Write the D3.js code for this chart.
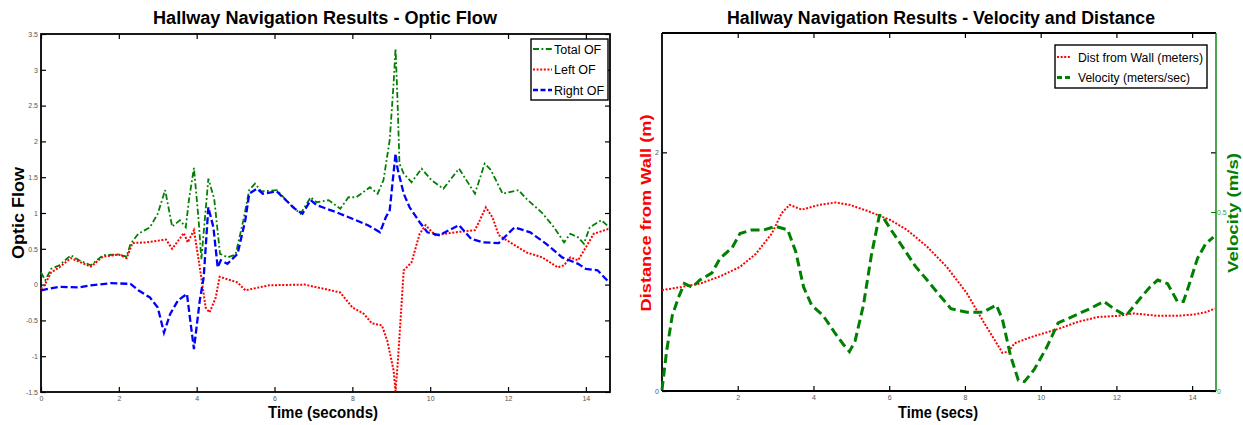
<!DOCTYPE html>
<html><head><meta charset="utf-8">
<script src="https://cdn.jsdelivr.net/npm/d3@7"></script>
<style>body{margin:0;background:#fff}svg{display:block}text{font-family:"Liberation Sans",Arial,sans-serif}</style>
</head><body><svg id="c" width="1243" height="425"></svg>
<script>
// ---------- DATA ----------
const ofXTicks = [0,2,4,6,8,10,12,14];
const ofYTicks = [-1.5,-1,-0.5,0,0.5,1,1.5,2,2.5,3,3.5];
const vdXTicks = [2,4,6,8,10,12,14];
const distTicks = [0,2];
const velTicks = [0,0.5];

const totalT = [0,0.11,0.26,0.47,0.77,0.98,1.28,1.59,1.99,2.2,2.3,2.5,2.8,3.0,3.19,3.37,3.57,3.72,3.8,3.93,4.05,4.12,4.3,4.45,4.6,4.8,5.0,5.2,5.35,5.5,5.66,6.06,6.47,6.67,6.93,7.08,7.39,7.69,7.9,8.1,8.45,8.65,8.8,8.96,9.06,9.11,9.16,9.21,9.32,9.52,9.78,10.03,10.34,10.74,11.15,11.4,11.56,11.86,12.27,12.47,12.88,13.18,13.44,13.6,13.8,13.95,14.1,14.4,14.6];
const totalV = [0.17,0.06,0.22,0.27,0.41,0.34,0.27,0.41,0.42,0.39,0.57,0.71,0.80,0.99,1.32,0.81,0.90,0.80,1.18,1.63,0.9,0.35,1.48,1.2,0.43,0.38,0.42,0.9,1.32,1.41,1.30,1.32,1.08,0.99,1.22,1.15,1.18,1.06,1.22,1.22,1.36,1.27,1.46,2.02,2.81,3.30,2.58,1.69,1.55,1.43,1.62,1.46,1.34,1.62,1.27,1.69,1.60,1.27,1.32,1.20,1.00,0.80,0.59,0.71,0.66,0.57,0.80,0.90,0.80];

const leftT = [0,0.11,0.26,0.47,0.77,1.28,1.59,2.0,2.2,2.35,2.7,3.21,3.37,3.67,3.77,3.93,4.08,4.23,4.33,4.49,4.59,5.05,5.25,5.86,6.77,7.28,7.69,8.0,8.3,8.5,8.76,8.9,9.06,9.11,9.17,9.27,9.32,9.52,9.73,9.88,10.13,10.64,11.15,11.25,11.43,11.6,11.76,12.17,12.47,12.88,13.28,13.44,13.6,13.8,14.0,14.2,14.6];
const leftV = [-0.06,0.01,0.17,0.24,0.37,0.25,0.39,0.42,0.37,0.58,0.59,0.63,0.50,0.72,0.59,0.76,0.24,-0.32,-0.39,-0.18,0.11,0.03,-0.08,-0.01,0.0,-0.06,-0.11,-0.32,-0.41,-0.54,-0.57,-0.79,-1.2,-1.49,-1.07,-0.22,0.2,0.31,0.71,0.83,0.69,0.73,0.76,0.87,1.08,0.94,0.69,0.55,0.45,0.38,0.24,0.27,0.38,0.34,0.52,0.71,0.78];

const rightT = [0,0.47,0.98,1.28,1.79,2.3,2.5,2.8,3.0,3.16,3.32,3.52,3.75,3.83,3.93,4.08,4.18,4.3,4.43,4.54,4.62,4.79,5.05,5.25,5.35,5.55,5.7,6.06,6.52,6.72,6.93,7.08,7.59,8.0,8.4,8.71,8.86,8.96,9.11,9.16,9.32,9.47,9.73,9.93,10.23,10.74,11.05,11.35,11.76,11.96,12.17,12.57,12.98,13.39,13.8,14.0,14.3,14.6];
const rightV = [-0.08,-0.03,-0.04,-0.01,0.02,0.01,-0.08,-0.18,-0.32,-0.67,-0.41,-0.22,-0.13,-0.48,-0.9,-0.22,0.1,1.08,0.80,0.24,0.34,0.29,0.43,0.9,1.27,1.34,1.27,1.30,1.06,0.99,1.18,1.11,1.01,0.92,0.83,0.73,0.94,1.04,1.83,1.62,1.27,1.08,0.87,0.73,0.69,0.83,0.64,0.59,0.58,0.69,0.80,0.73,0.57,0.38,0.29,0.22,0.20,0.03];

const distT = [0,0.48,1.0,1.53,2.06,2.48,2.9,3.16,3.37,3.69,4.16,4.58,4.95,5.42,6.05,6.47,7.0,7.52,8.05,8.47,8.78,8.99,9.15,9.31,9.73,10.04,10.46,10.99,11.51,12.04,12.46,13.09,13.6,14.03,14.35,14.6];
const distV = [0.845,0.87,0.90,0.96,1.04,1.15,1.32,1.49,1.56,1.52,1.56,1.58,1.56,1.51,1.43,1.35,1.21,1.04,0.82,0.59,0.43,0.32,0.33,0.40,0.45,0.48,0.52,0.58,0.62,0.63,0.65,0.63,0.63,0.64,0.66,0.69];

const velT = [0,0.12,0.27,0.43,0.59,0.8,1.0,1.32,1.53,1.85,2.06,2.37,2.69,3.0,3.32,3.53,3.74,3.95,4.26,4.58,4.79,4.95,5.1,5.32,5.53,5.74,5.81,6.05,6.37,6.68,7.0,7.31,7.63,8.05,8.47,8.83,8.99,9.2,9.41,9.57,9.83,10.15,10.46,10.88,11.3,11.67,11.93,12.25,12.56,12.88,13.09,13.35,13.61,13.77,13.93,14.14,14.35,14.56];
const velV = [0.003,0.11,0.21,0.26,0.30,0.29,0.31,0.33,0.37,0.40,0.44,0.45,0.45,0.46,0.45,0.39,0.29,0.24,0.21,0.16,0.13,0.11,0.14,0.24,0.38,0.49,0.49,0.45,0.40,0.35,0.31,0.27,0.23,0.22,0.22,0.24,0.20,0.10,0.03,0.026,0.06,0.12,0.19,0.21,0.23,0.25,0.23,0.21,0.25,0.29,0.31,0.30,0.25,0.25,0.30,0.37,0.41,0.43];

// ---------- CHART ----------
const svg = d3.select("#c");
const GREEN = "#008000", RED = "#ff0000", BLUE = "#0000ff";
const zip = (a,b) => a.map((t,i)=>[t,b[i]]);

function txt(g, s, x, y, o) {
  const t = g.append("text").attr("x", x).attr("y", y).text(s)
    .attr("font-size", o.size).attr("font-weight", o.weight || "normal")
    .attr("fill", o.fill || "#000").attr("text-anchor", o.anchor || "middle");
  if (o.len) t.attr("textLength", o.len).attr("lengthAdjust", "spacingAndGlyphs");
  if (o.rot) t.attr("transform", `rotate(${o.rot},${x},${y})`);
  return t;
}

// ---- Left: Optic flow ----
{
  const L=41,R=610,T=34,B=392;
  const x = d3.scaleLinear().domain([0,14.62]).range([L,R]);
  const y = d3.scaleLinear().domain([-1.5,3.5]).range([B,T]);
  const g = svg.append("g");
  const tl = 5;
  g.append("g").attr("transform",`translate(0,${B})`).call(d3.axisBottom(x).tickValues(ofXTicks).tickSize(-tl).tickPadding(4).tickFormat(d3.format("d")));
  g.append("g").attr("transform",`translate(0,${T})`).call(d3.axisTop(x).tickValues(ofXTicks).tickSize(-tl).tickFormat(""));
  g.append("g").attr("transform",`translate(${L},0)`).call(d3.axisLeft(y).tickValues(ofYTicks).tickSize(-tl).tickPadding(3).tickFormat(d=>String(d)));
  g.append("g").attr("transform",`translate(${R},0)`).call(d3.axisRight(y).tickValues(ofYTicks).tickSize(-tl).tickFormat(""));
  g.selectAll(".domain").remove();
  g.selectAll(".tick line").attr("stroke","#000").attr("stroke-width",1.2);
  g.selectAll(".tick text").attr("font-size",7).attr("fill","#555").attr("font-family","Liberation Sans, Arial");
  g.append("rect").attr("x",L).attr("y",T).attr("width",R-L).attr("height",B-T).attr("fill","none").attr("stroke","#000").attr("stroke-width",1.8);

  const line = d3.line().x(d=>x(d[0])).y(d=>y(d[1]));
  g.append("path").datum(zip(totalT,totalV)).attr("d",line).attr("fill","none").attr("stroke",GREEN).attr("stroke-width",1.8).attr("stroke-dasharray","6,2.5,1.8,2.5");
  g.append("path").datum(zip(leftT,leftV)).attr("d",line).attr("fill","none").attr("stroke",RED).attr("stroke-width",2).attr("stroke-dasharray","2,1.6");
  g.append("path").datum(zip(rightT,rightV)).attr("d",line).attr("fill","none").attr("stroke",BLUE).attr("stroke-width",2.3).attr("stroke-dasharray","7,3");

  // legend
  const lg = g.append("g");
  lg.append("rect").attr("x",531).attr("y",39).attr("width",77).attr("height",61).attr("fill","#fff").attr("stroke","#000").attr("stroke-width",1.4);
  const items = [["Total OF",GREEN,"6,2.5,1.8,2.5",1.8],["Left OF",RED,"2,1.6",2],["Right OF",BLUE,"5,2.5",2.3]];
  items.forEach((it,i)=>{
    const yy = 49 + i*20.5;
    lg.append("line").attr("x1",533).attr("x2",552).attr("y1",yy).attr("y2",yy).attr("stroke",it[1]).attr("stroke-width",it[3]).attr("stroke-dasharray",it[2]);
    txt(lg,it[0],554,yy+4.5,{size:12.5,anchor:"start"});
  });

  txt(svg,"Hallway Navigation Results - Optic Flow",325,24,{size:17.5,weight:"bold",len:344});
  txt(svg,"Time (seconds)",323,418,{size:16.5,weight:"bold",len:110});
  txt(svg,"Optic Flow",24,213,{size:16,weight:"bold",len:92,rot:-90});
}

// ---- Right: Velocity & distance ----
{
  const L=662,R=1216,T=33,B=391;
  const x = d3.scaleLinear().domain([0,14.63]).range([L,R]);
  const yD = d3.scaleLinear().domain([0,3]).range([B,T]);
  const yV = d3.scaleLinear().domain([0,1]).range([B,T]);
  const g = svg.append("g");
  const tl = 5;
  g.append("g").attr("transform",`translate(0,${B})`).call(d3.axisBottom(x).tickValues(vdXTicks).tickSize(-tl).tickPadding(4).tickFormat(d3.format("d")));
  g.append("g").attr("transform",`translate(0,${T})`).call(d3.axisTop(x).tickValues(vdXTicks).tickSize(-tl).tickFormat(""));
  g.append("g").attr("transform",`translate(${L},0)`).call(d3.axisLeft(yD).tickValues(distTicks).tickSize(-tl).tickPadding(3).tickFormat(d3.format("d")));
  g.append("g").attr("transform",`translate(${R},0)`).call(d3.axisRight(yD).tickValues(distTicks).tickSize(-tl).tickFormat(""));
  g.selectAll(".domain").remove();
  g.selectAll(".tick line").attr("stroke","#000").attr("stroke-width",1.2);
  g.selectAll(".tick text").attr("font-size",7).attr("fill","#555");
  const ra = g.append("g").attr("transform",`translate(${R},0)`).call(d3.axisRight(yV).tickValues(velTicks).tickSize(-tl).tickPadding(2).tickFormat(d=>String(d)));
  ra.select(".domain").remove();
  ra.selectAll(".tick line").attr("stroke",GREEN).attr("stroke-width",1);
  ra.selectAll(".tick text").attr("font-size",7).attr("fill","#3a9a3a").attr("x",1);

  g.append("line").attr("x1",L).attr("x2",R).attr("y1",T).attr("y2",T).attr("stroke","#000").attr("stroke-width",1.8);
  g.append("line").attr("x1",L).attr("x2",R).attr("y1",B).attr("y2",B).attr("stroke","#000").attr("stroke-width",1.8);
  g.append("line").attr("x1",L).attr("x2",L).attr("y1",T).attr("y2",B).attr("stroke","#000").attr("stroke-width",1.8);
  g.append("line").attr("x1",R).attr("x2",R).attr("y1",T).attr("y2",B).attr("stroke",GREEN).attr("stroke-width",1.4);

  const lD = d3.line().x(d=>x(d[0])).y(d=>yD(d[1]));
  const lV = d3.line().x(d=>x(d[0])).y(d=>yV(d[1]));
  g.append("path").datum(zip(distT,distV)).attr("d",lD).attr("fill","none").attr("stroke",RED).attr("stroke-width",2).attr("stroke-dasharray","2,1.6");
  g.append("path").datum(zip(velT,velV)).attr("d",lV).attr("fill","none").attr("stroke",GREEN).attr("stroke-width",3).attr("stroke-dasharray","9,4.5");

  const lg = g.append("g");
  lg.append("rect").attr("x",1055).attr("y",45).attr("width",152).attr("height",43).attr("fill","#fff").attr("stroke","#000").attr("stroke-width",1.4);
  const items = [["Dist from Wall (meters)",RED,"2,1.6",2],["Velocity (meters/sec)",GREEN,"5,3",3]];
  items.forEach((it,i)=>{
    const yy = 57 + i*20.5;
    lg.append("line").attr("x1",1057).attr("x2",1071).attr("y1",yy).attr("y2",yy).attr("stroke",it[1]).attr("stroke-width",it[3]).attr("stroke-dasharray",it[2]);
    txt(lg,it[0],1078,yy+4.5,{size:12.5,anchor:"start",len:it[0].length===23?125:112});
  });

  txt(svg,"Hallway Navigation Results - Velocity and Distance",941,24,{size:17.5,weight:"bold",len:428});
  txt(svg,"Time (secs)",938,418,{size:16.5,weight:"bold",len:80});
  txt(svg,"Distance from Wall (m)",651,213,{size:15,weight:"bold",len:197,fill:RED,rot:-90});
  txt(svg,"Velocity (m/s)",1238,213,{size:15,weight:"bold",len:120,fill:GREEN,rot:-90});
}
</script></body></html>
